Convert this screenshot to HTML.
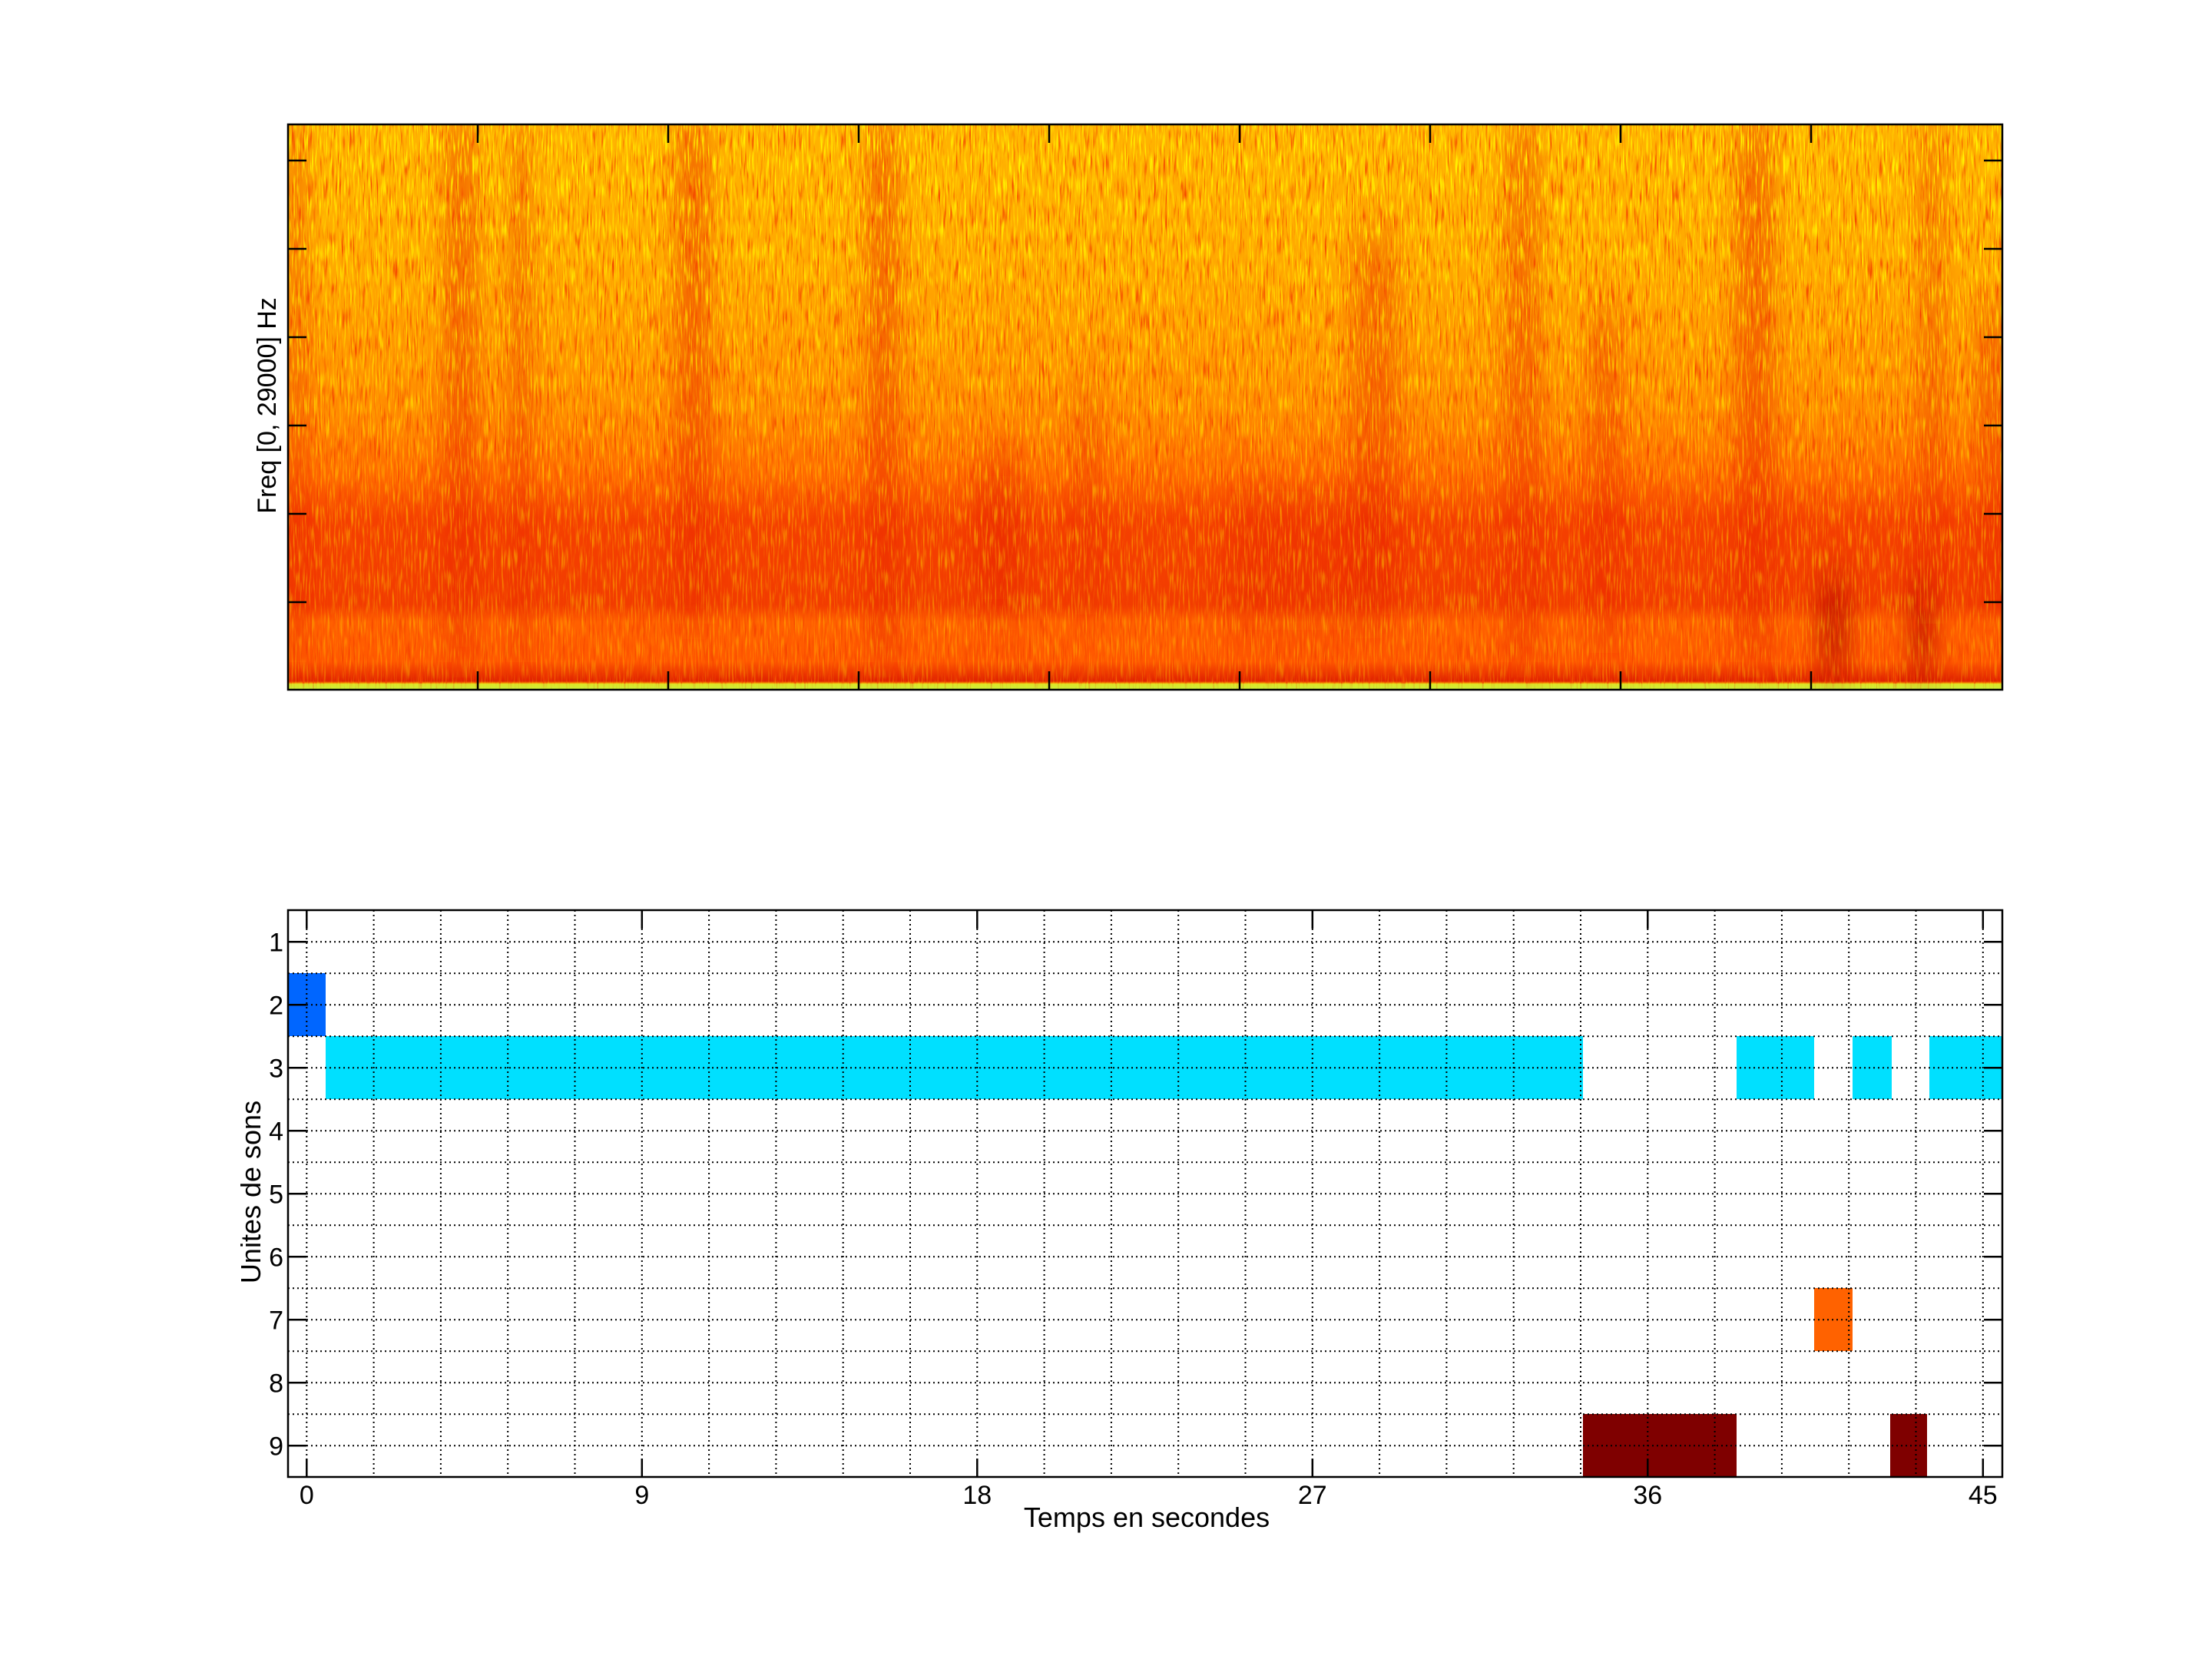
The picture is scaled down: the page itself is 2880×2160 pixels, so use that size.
<!DOCTYPE html>
<html><head><meta charset="utf-8"><style>html,body{margin:0;padding:0;background:#fff}svg{display:block}</style></head>
<body>
<svg width="2880" height="2160" viewBox="0 0 2880 2160" xmlns="http://www.w3.org/2000/svg" font-family="Liberation Sans, sans-serif">
<defs>
<linearGradient id="bg" x1="0" y1="0" x2="0" y2="1">
<stop offset="0" stop-color="#ffb400"/>
<stop offset="0.25" stop-color="#ffa800"/>
<stop offset="0.5" stop-color="#ff8c00"/>
<stop offset="0.62" stop-color="#ff6a00"/>
<stop offset="0.7" stop-color="#f54000"/>
<stop offset="0.85" stop-color="#f23c00"/>
<stop offset="0.88" stop-color="#ff6000"/>
<stop offset="0.95" stop-color="#ff5800"/>
<stop offset="0.985" stop-color="#e02000"/>
<stop offset="0.99" stop-color="#ffd000"/>
<stop offset="1" stop-color="#c8f040"/>
</linearGradient>
<linearGradient id="yfade" x1="0" y1="0" x2="0" y2="1">
<stop offset="0" stop-color="#fff" stop-opacity="1"/>
<stop offset="0.6" stop-color="#fff" stop-opacity="0.5"/>
<stop offset="1" stop-color="#fff" stop-opacity="0.3"/>
</linearGradient>
<mask id="ym"><rect x="375" y="162" width="2232" height="736" fill="url(#yfade)"/></mask>
<filter id="ny" x="0" y="0" width="100%" height="100%">
<feTurbulence type="fractalNoise" baseFrequency="0.45 0.035" numOctaves="2" seed="3"/>
<feColorMatrix type="matrix" values="0 0 0 0 1  0 0 0 0 0.95  0 0 0 0 0  3.2 0 0 0 -1.55"/>
</filter>
<filter id="nr" x="0" y="0" width="100%" height="100%">
<feTurbulence type="fractalNoise" baseFrequency="0.4 0.03" numOctaves="2" seed="11"/>
<feColorMatrix type="matrix" values="0 0 0 0 0.9  0 0 0 0 0.05  0 0 0 0 0  3.0 0 0 0 -1.6"/>
</filter>
<filter id="blur"><feGaussianBlur stdDeviation="12 30"/></filter>
<clipPath id="cp"><rect x="375" y="162" width="2232" height="736"/></clipPath>
</defs>

<g clip-path="url(#cp)">
<rect x="375" y="162" width="2232" height="736" fill="url(#bg)"/>
<g filter="url(#blur)" fill="#e82000">
<rect x="580" y="162" width="40" height="700" opacity="0.45"/>
<rect x="665" y="162" width="25" height="700" opacity="0.4"/>
<rect x="880" y="162" width="45" height="650" opacity="0.45"/>
<rect x="1130" y="162" width="40" height="700" opacity="0.45"/>
<rect x="1270" y="600" width="60" height="200" opacity="0.5"/>
<rect x="1400" y="500" width="30" height="300" opacity="0.3"/>
<rect x="1760" y="300" width="60" height="500" opacity="0.35"/>
<rect x="1960" y="162" width="45" height="700" opacity="0.4"/>
<rect x="2070" y="400" width="40" height="450" opacity="0.35"/>
<rect x="2260" y="162" width="50" height="700" opacity="0.45"/>
<rect x="2365" y="760" width="45" height="120" fill="#b00000" opacity="0.6"/>
<rect x="2485" y="760" width="35" height="120" fill="#b00000" opacity="0.6"/>
<rect x="2500" y="162" width="30" height="650" opacity="0.35"/>
<rect x="2575" y="400" width="40" height="400" opacity="0.4"/>
<rect x="375" y="162" width="25" height="700" opacity="0.35"/>
<rect x="1600" y="640" width="200" height="180" opacity="0.3"/>
</g>
<rect x="375" y="162" width="2232" height="736" filter="url(#nr)"/>
<g mask="url(#ym)"><rect x="375" y="162" width="2232" height="736" filter="url(#ny)"/></g>
<rect x="375" y="890" width="2232" height="8" fill="#c8f040" opacity="0.6"/>
</g>
<rect x="375" y="162" width="2232" height="736" fill="none" stroke="#000" stroke-width="2.5"/>
<g stroke="#000" stroke-width="2.5">
<path d="M375 209h24M375 324h24M375 439h24M375 554h24M375 669h24M375 784h24"/>
<path d="M2607 209h-24M2607 324h-24M2607 439h-24M2607 554h-24M2607 669h-24M2607 784h-24"/>
<path d="M622 162v24M870 162v24M1118 162v24M1366 162v24M1614 162v24M1862 162v24M2110 162v24M2358 162v24"/>
<path d="M622 898v-24M870 898v-24M1118 898v-24M1366 898v-24M1614 898v-24M1862 898v-24M2110 898v-24M2358 898v-24"/>
</g>
<text transform="translate(359,528) rotate(-90)" text-anchor="middle" font-size="34">Freq [0, 29000] Hz</text>

<g>
<rect x="375" y="1267" width="49" height="82" fill="#0066ff"/>
<rect x="424" y="1349" width="1637" height="82" fill="#00e0ff"/>
<rect x="2261" y="1349" width="101" height="82" fill="#00e0ff"/>
<rect x="2412" y="1349" width="51" height="82" fill="#00e0ff"/>
<rect x="2512" y="1349" width="95" height="82" fill="#00e0ff"/>
<rect x="2362" y="1677" width="50" height="82" fill="#ff6200"/>
<rect x="2061" y="1841" width="200" height="82" fill="#7f0000"/>
<rect x="2461" y="1841" width="48" height="82" fill="#7f0000"/>
</g>
<g stroke="#000" stroke-width="2" stroke-dasharray="2 4">
<path d="M399.3 1185V1923M486.6 1185V1923M573.9 1185V1923M661.2 1185V1923M748.5 1185V1923M835.8 1185V1923M923.1 1185V1923M1010.4 1185V1923M1097.7 1185V1923M1185 1185V1923M1272.3 1185V1923M1359.6 1185V1923M1446.9 1185V1923M1534.2 1185V1923M1621.5 1185V1923M1708.8 1185V1923M1796.1 1185V1923M1883.4 1185V1923M1970.7 1185V1923M2058 1185V1923M2145.3 1185V1923M2232.6 1185V1923M2319.9 1185V1923M2407.2 1185V1923M2494.5 1185V1923M2581.8 1185V1923"/>
<path d="M375 1226.3H2607M375 1267.3H2607M375 1308.3H2607M375 1349.3H2607M375 1390.3H2607M375 1431.3H2607M375 1472.3H2607M375 1513.3H2607M375 1554.3H2607M375 1595.3H2607M375 1636.3H2607M375 1677.3H2607M375 1718.3H2607M375 1759.3H2607M375 1800.3H2607M375 1841.3H2607M375 1882.3H2607"/>
</g>
<rect x="375" y="1185" width="2232" height="738" fill="none" stroke="#000" stroke-width="2.5"/>
<g stroke="#000" stroke-width="2.5">
<path d="M375 1226.3h24M375 1308.3h24M375 1390.3h24M375 1472.3h24M375 1554.3h24M375 1636.3h24M375 1718.3h24M375 1800.3h24M375 1882.3h24"/>
<path d="M2607 1226.3h-24M2607 1308.3h-24M2607 1390.3h-24M2607 1472.3h-24M2607 1554.3h-24M2607 1636.3h-24M2607 1718.3h-24M2607 1800.3h-24M2607 1882.3h-24"/>
<path d="M399.3 1923v-24M835.8 1923v-24M1272.3 1923v-24M1708.8 1923v-24M2145.3 1923v-24M2581.8 1923v-24"/>
<path d="M399.3 1185v24M835.8 1185v24M1272.3 1185v24M1708.8 1185v24M2145.3 1185v24M2581.8 1185v24"/>
</g>
<g font-size="34" text-anchor="end">
<text x="369" y="1238.5">1</text><text x="369" y="1320.5">2</text><text x="369" y="1402.5">3</text>
<text x="369" y="1484.5">4</text><text x="369" y="1566.5">5</text><text x="369" y="1648.5">6</text>
<text x="369" y="1730.5">7</text><text x="369" y="1812.5">8</text><text x="369" y="1894.5">9</text>
</g>
<g font-size="34" text-anchor="middle">
<text x="399.3" y="1958">0</text><text x="835.8" y="1958">9</text><text x="1272.3" y="1958">18</text>
<text x="1708.8" y="1958">27</text><text x="2145.3" y="1958">36</text><text x="2581.8" y="1958">45</text>
</g>
<text x="1493" y="1988" text-anchor="middle" font-size="36">Temps en secondes</text>
<text transform="translate(339,1552) rotate(-90)" text-anchor="middle" font-size="36">Unites de sons</text>
</svg>
</body></html>
